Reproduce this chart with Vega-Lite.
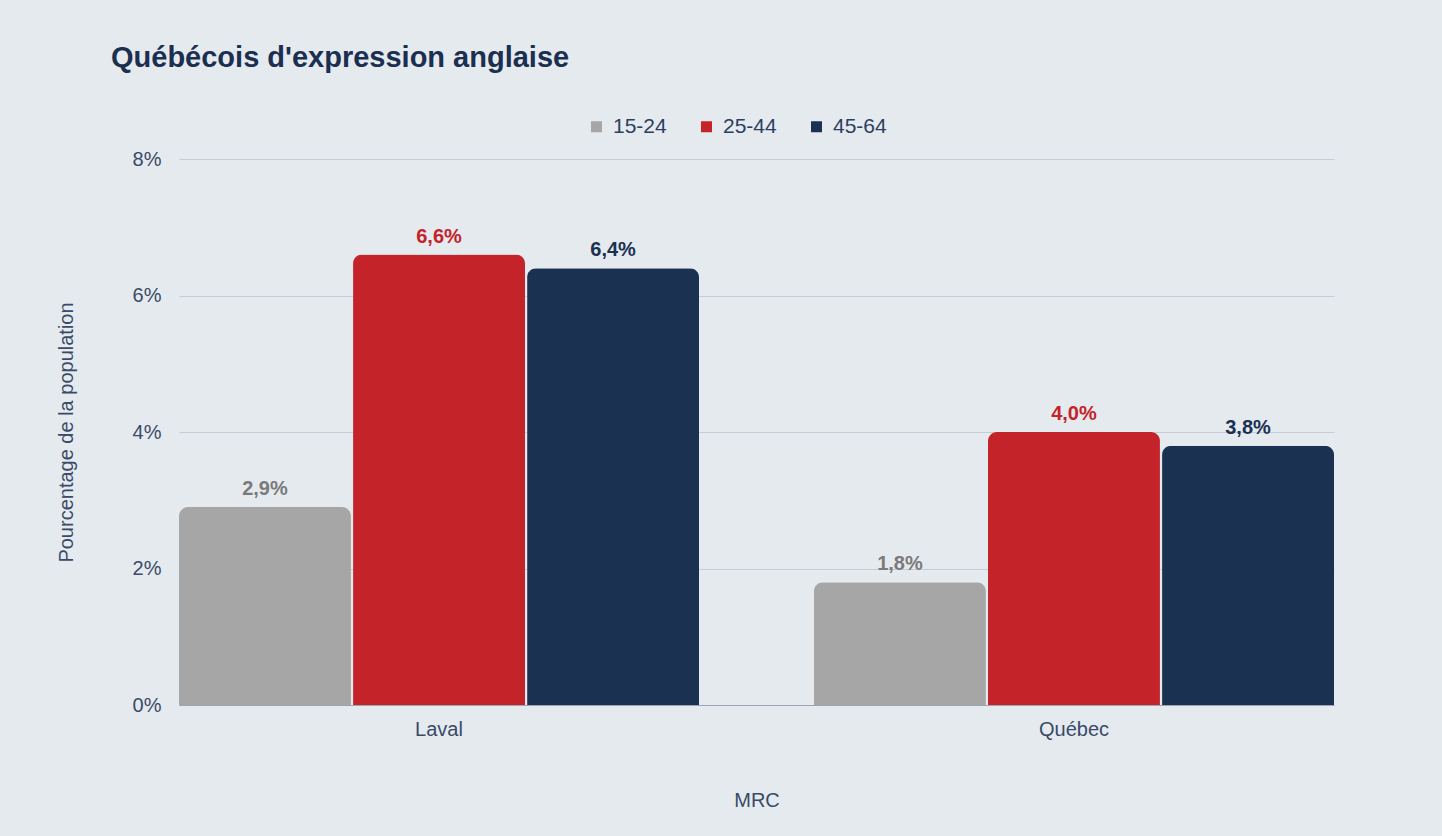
{
  "$schema": "https://vega.github.io/schema/vega-lite/v6.json",
  "width": 1155,
  "height": 546,
  "autosize": "none",
  "padding": {"left": 179, "top": 159, "right": 108, "bottom": 131},
  "background": "#e5eaef",
  "title": {
    "text": "Québécois d'expression anglaise",
    "anchor": "start",
    "frame": "group",
    "dx": -68,
    "offset": 43,
    "fontSize": 29,
    "fontWeight": "bold",
    "font": "Liberation Sans",
    "color": "#1b2f50"
  },
  "data": {
    "values": [
      {"mrc": "Laval", "age": "15-24", "value": 0.029},
      {"mrc": "Laval", "age": "25-44", "value": 0.066},
      {"mrc": "Laval", "age": "45-64", "value": 0.064},
      {"mrc": "Québec", "age": "15-24", "value": 0.018},
      {"mrc": "Québec", "age": "25-44", "value": 0.040},
      {"mrc": "Québec", "age": "45-64", "value": 0.038}
    ]
  },
  "encoding": {
    "x": {
      "field": "mrc",
      "type": "nominal",
      "sort": ["Laval", "Québec"],
      "scale": {"paddingInner": 0.181, "paddingOuter": 0},
      "axis": {
        "title": "MRC",
        "labelAngle": 0,
        "ticks": false,
        "labelPadding": 14,
        "titlePadding": 51,
        "domain": true,
        "domainColor": "#9aa4b5",
        "domainWidth": 1
      }
    },
    "xOffset": {
      "field": "age",
      "type": "nominal",
      "sort": ["15-24", "25-44", "45-64"],
      "scale": {"paddingInner": 0.012, "paddingOuter": 0}
    },
    "y": {
      "field": "value",
      "type": "quantitative",
      "scale": {"domain": [0, 0.08], "nice": false},
      "axis": {
        "title": "Pourcentage de la population",
        "values": [0, 0.02, 0.04, 0.06, 0.08],
        "format": ".0%",
        "ticks": false,
        "domain": false,
        "labelPadding": 18,
        "titlePadding": 56,
        "grid": true,
        "gridColor": "#c5ccd7",
        "gridWidth": 1
      }
    }
  },
  "layer": [
    {
      "mark": {"type": "bar", "cornerRadiusTopLeft": 9, "cornerRadiusTopRight": 9},
      "encoding": {
        "color": {
          "field": "age",
          "type": "nominal",
          "sort": ["15-24", "25-44", "45-64"],
          "scale": {"domain": ["15-24", "25-44", "45-64"], "range": ["#a6a6a6", "#c4232a", "#1b3152"]},
          "legend": {
            "title": null,
            "orient": "none",
            "direction": "horizontal",
            "legendX": 407,
            "legendY": -43,
            "symbolType": "square",
            "symbolSize": 121,
            "symbolStrokeWidth": 0,
            "labelFontSize": 21,
            "labelFont": "Liberation Sans",
            "labelColor": "#2d3f5f",
            "labelOffset": 6,
            "columnPadding": 29
          }
        }
      }
    },
    {
      "mark": {"type": "text", "baseline": "bottom", "dy": -8, "fontSize": 20, "fontWeight": "bold", "font": "Liberation Sans"},
      "encoding": {
        "text": {"field": "value", "type": "quantitative", "format": ".1%"},
        "color": {
          "field": "age",
          "type": "nominal",
          "scale": {"domain": ["15-24", "25-44", "45-64"], "range": ["#7a7a7a", "#c4232a", "#1b3152"]},
          "legend": null
        }
      }
    }
  ],
  "resolve": {"scale": {"color": "independent"}},
  "config": {
    "locale": {
      "number": {"decimal": ",", "thousands": " ", "grouping": [3], "currency": ["", " $"], "percent": "%"}
    },
    "view": {"stroke": null},
    "axis": {
      "labelFont": "Liberation Sans",
      "titleFont": "Liberation Sans",
      "labelFontSize": 20,
      "titleFontSize": 20,
      "titleFontWeight": "normal",
      "labelColor": "#3a4a68",
      "titleColor": "#3a4a68"
    }
  }
}
